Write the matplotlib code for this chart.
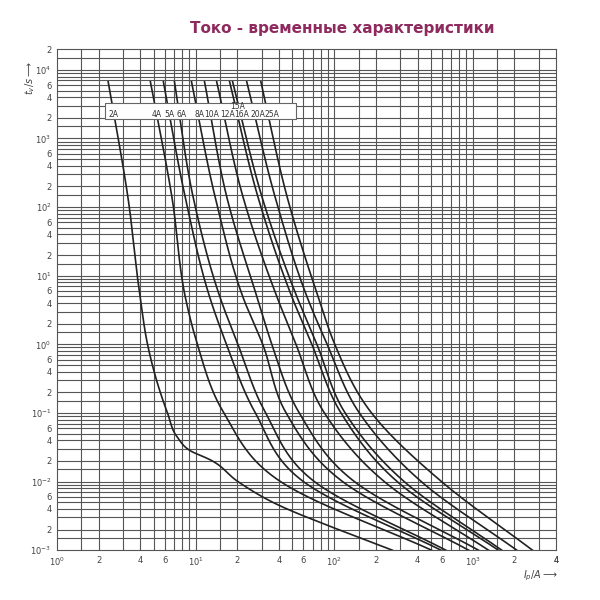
import numpy as np
import matplotlib
matplotlib.use("Agg")
import matplotlib.pyplot as plt

# time levels (s) shared by most curves
T_LEVELS = [6700, 127, 4.5, 1.0, 0.1, 0.01, 0.001]

CURVES = {
    "4A": [4.72, 6.8, 8.5, 10.3, 16, 41, 505],
    "5A": [5.86, 8.5, 12.8, 16.7, 27, 60, 590],
    "6A": [7.04, 9.7, 15.2, 20.2, 32, 72, 640],
    "8A": [9.35, 14, 22.3, 30.5, 45, 115, 935],
    "10A": [11.6, 17, 28.1, 35.5, 56, 140, 1100],
    "12A": [14.2, 22.3, 39.3, 53, 85, 230, 1300],
    "15A": [17.6, 28.6, 50.4, 69, 112, 285, 1530],
    "16A": [18.5, 30.6, 54.8, 75, 120, 320, 1620],
    "20A": [23.4, 38, 64.8, 89, 152, 425, 2080],
    "25A": [29.6, 46.4, 77.8, 101, 186, 595, 2700],
}

# 2A has its own shape
I_2A = [2.34, 3.27, 4.0, 4.5, 6.27, 7.4, 9.2, 12.8, 20.2, 36.7, 107, 263]
T_2A = [6700, 127, 4.5, 1.0, 0.1, 0.044, 0.028, 0.0207, 0.01, 0.0049, 0.002, 0.001]

LABELS = ["2A", "4A", "5A", "6A", "8A", "10A", "12A", "16A", "20A", "25A"]
LABEL_X = [2.55, 5.2, 6.5, 7.9, 10.7, 13.1, 17.1, 21.5, 28.1, 35.5]


def hermite(xk, yk, xq):
    """Cubic Hermite with averaged tangents."""
    xk = np.asarray(xk, float); yk = np.asarray(yk, float)
    h = np.diff(xk); d = np.diff(yk) / h
    m = np.zeros_like(yk)
    m[0], m[-1] = d[0], d[-1]
    for i in range(1, len(xk) - 1):
        m[i] = (h[i] * d[i - 1] + h[i - 1] * d[i]) / (h[i] + h[i - 1])
    idx = np.clip(np.searchsorted(xk, xq) - 1, 0, len(h) - 1)
    t = (xq - xk[idx]) / h[idx]
    h00 = 2 * t**3 - 3 * t**2 + 1; h10 = t**3 - 2 * t**2 + t
    h01 = -2 * t**3 + 3 * t**2; h11 = t**3 - t**2
    return (h00 * yk[idx] + h10 * h[idx] * m[idx]
            + h01 * yk[idx + 1] + h11 * h[idx] * m[idx + 1])


def curve(i_vals, t_vals):
    lt = np.log10(t_vals)[::-1]
    li = np.log10(i_vals)[::-1]
    q = np.linspace(lt[0], lt[-1], 400)
    return 10 ** hermite(lt, li, q), 10 ** q


fig = plt.figure(figsize=(6, 6), dpi=100)
ax = fig.add_axes([0.095, 0.083, 0.832, 0.835])
ax.set_xscale("log")
ax.set_yscale("log")
ax.set_xlim(1, 4000)
ax.set_ylim(1e-3, 2e4)

grid_c = "#555555"
steps = [1, 1.5, 2, 3, 4, 5, 6, 7, 8, 9]
for d in range(0, 4):
    for s in steps:
        v = s * 10 ** d
        if 1 < v < 4000:
            ax.axvline(v, color=grid_c, lw=0.8, zorder=1)
for d in range(-3, 5):
    for s in steps:
        v = s * 10.0 ** d
        if 1e-3 < v < 2e4:
            ax.axhline(v, color=grid_c, lw=0.8, zorder=1)

xs, ys = curve(I_2A, T_2A)
ax.plot(xs, ys, color="#222222", lw=1.2, zorder=3)
for name, vals in CURVES.items():
    xs, ys = curve(vals, T_LEVELS)
    ax.plot(xs, ys, color="#222222", lw=1.2, zorder=3)

# label box
ax.fill_between([2.23, 53], 1930, 3300, color="white", ec="#666666", lw=0.8, zorder=4)
for lab, lx in zip(LABELS, LABEL_X):
    ax.text(lx, 2250, lab, fontsize=5.5, color="#333333", ha="center", va="center", zorder=5)
ax.text(20.2, 2950, "15A", fontsize=5.5, color="#333333", ha="center", va="center", zorder=5)

# ticks
xt, xl = [], []
for d in range(0, 4):
    for s in [1, 2, 4, 6]:
        v = s * 10 ** d
        if v <= 4000:
            xt.append(v)
            xl.append(f"$10^{{{d}}}$" if s == 1 else str(s))
xt.append(4000); xl.append("4")
yt, yl = [], []
for d in range(-3, 5):
    for s in [1, 2, 4, 6]:
        v = s * 10.0 ** d
        if v <= 2e4:
            yt.append(v)
            yl.append(f"$10^{{{d}}}$" if s == 1 else str(s))
ax.set_xticks(xt)
ax.set_xticklabels(xl, fontsize=6, color="#444444")
ax.set_yticks(yt)
ax.set_yticklabels(yl, fontsize=6, color="#444444")
ax.minorticks_off()
ax.tick_params(length=0, pad=4)
for sp in ax.spines.values():
    sp.set_color(grid_c)

fig.text(0.05, 0.87, r"$t_v/s \longrightarrow$", rotation=90, fontsize=7,
         color="#444444", ha="center", va="center")
fig.text(0.9, 0.04, r"$I_p/A \longrightarrow$", fontsize=7, color="#444444",
         ha="center", va="center")
fig.text(0.57, 0.953, "Токо - временные характеристики", fontsize=11,
         fontweight="bold", color="#8e2a5e", ha="center", va="center")

fig.savefig("out.png", dpi=100)
